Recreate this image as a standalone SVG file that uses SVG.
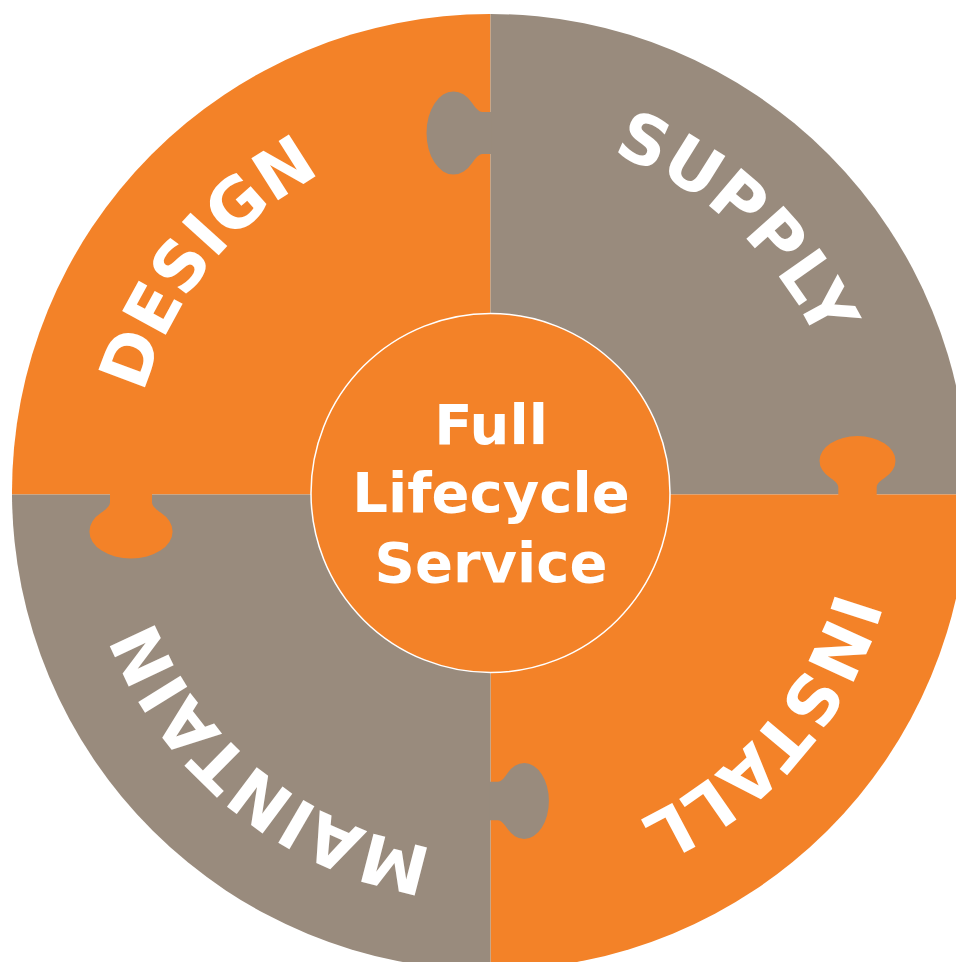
<svg xmlns="http://www.w3.org/2000/svg" xmlns:xlink="http://www.w3.org/1999/xlink" width="956" height="962" viewBox="0 0 956 962">
  <style>
    .orange { fill: #F38228; }
    .gray { fill: #998B7D; }
    .ring-label { font-family: "DejaVu Sans", Verdana, sans-serif; font-weight: bold; font-size: 68px; fill: #FFFFFF; }
    .center-label { font-family: "DejaVu Sans", Verdana, sans-serif; font-weight: bold; font-size: 56px; fill: #FFFFFF; text-anchor: middle; }
  </style>
  <defs>
    <path id="ring" d="M 850 492 A 360 360 0 1 1 130 492 A 360 360 0 1 1 850 492"/>
    <path id="knob" d="M 1 -21 L -8 -21 C -12 -21 -16.2 -26.8 -18 -29.6 A 27 41.6 0 1 0 -18 29.6 C -16.2 26.8 -12 21 -8 21 L 1 21 Z"/>
  </defs>
  <rect x="0" y="0" width="956" height="962" fill="#FFFFFF"/>

  <g id="design">
    <path class="orange" d="M 490.5 494.5 L 12 494.5 A 478 478 0 0 1 490.5 14 Z"/>
  </g>
  <g id="supply">
    <path class="gray" d="M 490.5 494.5 L 490.5 14 A 478 478 0 0 1 968 494.5 Z"/>
  </g>
  <g id="install">
    <path class="orange" d="M 490.5 494.5 L 968 494.5 A 478 478 0 0 1 490.5 970 Z"/>
  </g>
  <g id="maintain">
    <path class="gray" d="M 490.5 494.5 L 490.5 970 A 478 478 0 0 1 12 494.5 Z"/>
  </g>

  <g id="tabs">
    <use xlink:href="#knob" class="gray" transform="translate(490.5,133)"/>
    <use xlink:href="#knob" class="orange" transform="translate(857.5,494.5) rotate(90) scale(0.913)"/>
    <use xlink:href="#knob" class="orange" transform="translate(131,494.5) rotate(-90)"/>
    <use xlink:href="#knob" class="gray" transform="translate(490.5,801) scale(-0.913,0.913)"/>
  </g>

  <g id="labels">
    <text class="ring-label"><textPath xlink:href="#ring" startOffset="60.83%" text-anchor="middle">DESIGN</textPath></text>
    <text class="ring-label"><textPath xlink:href="#ring" startOffset="86.83%" text-anchor="middle">SUPPLY</textPath></text>
    <text class="ring-label"><textPath xlink:href="#ring" startOffset="11.31%" text-anchor="middle">INSTALL</textPath></text>
    <text class="ring-label"><textPath xlink:href="#ring" startOffset="35.89%" text-anchor="middle">MAINTAIN</textPath></text>
  </g>

  <g id="center">
    <circle cx="490.5" cy="493" r="179.5" class="orange" stroke="#FFFFFF" stroke-width="1.5"/>
    <text class="center-label" x="491" y="444">Full</text>
    <text class="center-label" x="491" y="512">Lifecycle</text>
    <text class="center-label" x="491" y="582">Service</text>
  </g>

  <g id="connectors"/>
</svg>
